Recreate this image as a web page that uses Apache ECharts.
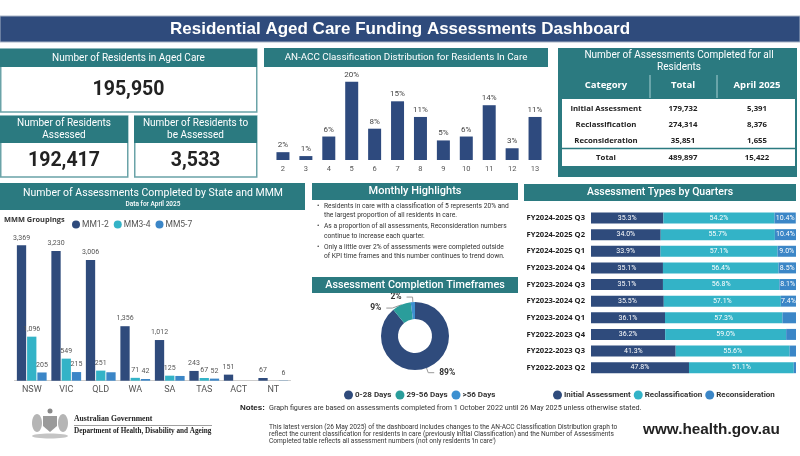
<!DOCTYPE html>
<html><head><meta charset="utf-8">
<script src="https://cdn.jsdelivr.net/npm/echarts@6/dist/echarts.min.js"></script>
<style>html,body{margin:0;padding:0;background:#fff}#c{width:800px;height:456px}</style>
</head><body><div id="c"></div>
<script>
// ---------- DATA ----------
const kpiInCare = 195950;
const kpiAssessed = 192417;
const kpiToBeAssessed = 3533;

const anaccCats = ['2','3','4','5','6','7','8','9','10','11','12','13'];
const anaccPct = [2,1,6,20,8,15,11,5,6,14,3,11];

const tableCats = ['Initial Assessment','Reclassification','Reconsideration'];
const tableTotal = [179732,274314,35851];
const tableApril = [5391,8376,1655];
const tableGrandTotal = 489897;
const tableGrandApril = 15422;

const states = ['NSW','VIC','QLD','WA','SA','TAS','ACT','NT'];
const mm12 = [3369,3230,3006,1356,1012,243,151,67];
const mm34 = [1096,549,251,71,125,67,null,null];
const mm57 = [205,215,210,42,118,52,null,6];
const mm57HiddenLabels = ['QLD','SA'];

const highlights = [
  ['Residents in care with a classification of 5 represents 20% and','the largest proportion of all residents in care.'],
  ['As a proportion of all assessments, Reconsideration numbers','continue to increase each quarter.'],
  ['Only a little over 2% of assessments were completed outside','of KPI time frames and this number continues to trend down.']
];

const timeframeNames = ['0-28 Days','29-56 Days','>56 Days'];
const timeframePct = [89,9,2];

const quarters = ['FY2024-2025 Q3','FY2024-2025 Q2','FY2024-2025 Q1','FY2023-2024 Q4','FY2023-2024 Q3','FY2023-2024 Q2','FY2023-2024 Q1','FY2022-2023 Q4','FY2022-2023 Q3','FY2022-2023 Q2'];
const initialPct = [35.3,34.0,33.9,35.1,35.1,35.5,36.1,36.2,41.3,47.8];
const reclassPct = [54.2,55.7,57.1,56.4,56.8,57.1,57.3,59.0,55.6,51.1];
const reconPct   = [10.4,10.4,9.0,8.5,8.1,7.4,6.6,4.8,3.1,1.1];

// ---------- STYLE ----------
const TEAL = '#2b7a80';
const NAVY = '#2f4b7c';
const CYAN = '#33b3c7';
const BLUE = '#3b86c7';
const HDR = "10.5px Roboto, sans-serif";
const HDR10 = "10px Roboto, sans-serif";
const NARROW = "Roboto, sans-serif";
const fmt = v => v == null ? '' : Number(v).toLocaleString('en-US');

function txt(x, y, text, font, fill, align) {
  return {type:'text', silent:true, z:10, style:{x:x, y:y, text:text, font:font, fill:fill||'#fff',
    textAlign:align||'center', align:align||'center', textVerticalAlign:'middle', verticalAlign:'middle'}};
}
function rect(x, y, w, h, fill, stroke, lw) {
  return {type:'rect', silent:true, z:5, shape:{x:x, y:y, width:w, height:h},
    style:{fill:fill, stroke:stroke||null, lineWidth:lw||0}};
}
function line(x1, y1, x2, y2, stroke, lw) {
  return {type:'line', silent:true, z:8, shape:{x1:x1, y1:y1, x2:x2, y2:y2}, style:{stroke:stroke, lineWidth:lw||1}};
}

const g = [];
// title
g.push(rect(0, 16, 800, 26, NAVY, '#a8b4c6', 1));
g.push(txt(400, 29.5, 'Residential Aged Care Funding Assessments Dashboard', "bold 17px 'Liberation Sans', Arial, sans-serif"));

// KPI boxes
const KPIF = "bold 19.5px Roboto, sans-serif";
g.push(rect(0.75, 49, 256, 63, '#fff', '#6aa3a8', 1.5));
g.push(rect(0, 49, 257, 18, TEAL));
g.push(txt(128.5, 58.5, 'Number of Residents in Aged Care', HDR10));
g.push(txt(128.5, 90, fmt(kpiInCare), KPIF, '#222'));

g.push(rect(0.75, 116, 127, 61, '#fff', '#6aa3a8', 1.5));
g.push(rect(0, 116, 128, 27, TEAL));
g.push(txt(64, 123.5, 'Number of Residents', HDR10));
g.push(txt(64, 135, 'Assessed', HDR10));
g.push(txt(64, 161, fmt(kpiAssessed), KPIF, '#222'));

g.push(rect(134.75, 116, 122, 61, '#fff', '#6aa3a8', 1.5));
g.push(rect(134, 116, 123, 27, TEAL));
g.push(txt(195.5, 123.5, 'Number of Residents to', HDR10));
g.push(txt(195.5, 135, 'be Assessed', HDR10));
g.push(txt(195.5, 161, fmt(kpiToBeAssessed), KPIF, '#222'));

// AN-ACC header
g.push(rect(264, 48, 284, 19, TEAL));
g.push(txt(406, 58, 'AN-ACC Classification Distribution for Residents In Care', "9.8px Roboto, sans-serif"));

// Table
g.push(rect(558, 48, 239, 129, TEAL));
g.push(txt(679, 55.5, 'Number of Assessments Completed for all', HDR10));
g.push(txt(679, 67, 'Residents', HDR10));
const colX = [606, 683, 757];
g.push(txt(colX[0], 85, 'Category', "bold 9.5px 'Open Sans', sans-serif"));
g.push(txt(colX[1], 85, 'Total', "bold 9.5px 'Open Sans', sans-serif"));
g.push(txt(colX[2], 85, 'April 2025', "bold 9.5px 'Open Sans', sans-serif"));
g.push(line(650, 75, 650, 98, '#a9d0d3', 1));
g.push(line(717, 75, 717, 98, '#a9d0d3', 1));
g.push(rect(562, 99, 233, 67, '#fff'));
g.push(line(562, 148.5, 795, 148.5, TEAL, 1.5));
const rowY = [109, 124.3, 140.3];
tableCats.forEach((c, i) => {
  g.push(txt(colX[0], rowY[i], c, "bold 7.8px 'Open Sans', sans-serif", '#222'));
  g.push(txt(colX[1], rowY[i], fmt(tableTotal[i]), "bold 7.8px 'Open Sans', sans-serif", '#222'));
  g.push(txt(colX[2], rowY[i], fmt(tableApril[i]), "bold 7.8px 'Open Sans', sans-serif", '#222'));
});
g.push(txt(colX[0], 157.3, 'Total', "bold 7.8px 'Open Sans', sans-serif", '#222'));
g.push(txt(colX[1], 157.3, fmt(tableGrandTotal), "bold 7.8px 'Open Sans', sans-serif", '#222'));
g.push(txt(colX[2], 157.3, fmt(tableGrandApril), "bold 7.8px 'Open Sans', sans-serif", '#222'));

// State header
g.push(rect(0, 183, 305, 27, TEAL));
g.push(txt(153, 193, 'Number of Assessments Completed by State and MMM', HDR));
g.push(txt(153, 204.5, 'Data for April 2025', "500 6.5px Roboto, sans-serif"));
g.push(txt(4, 220, 'MMM Groupings', "bold 7.4px 'Open Sans', sans-serif", '#333', 'left'));

// Monthly highlights
g.push(rect(312, 183, 206, 17, TEAL));
g.push(txt(415, 191.5, 'Monthly Highlights', "500 11px Roboto, sans-serif"));
const hlY = [[206, 215.5], [226.5, 236], [247, 256.5]];
highlights.forEach((lines, i) => {
  g.push(txt(317, hlY[i][0], '•', "7px Roboto, sans-serif", '#333', 'left'));
  lines.forEach((l, j) => g.push(txt(324, hlY[i][j], l, "6.7px " + NARROW, '#333', 'left')));
});

// Completion timeframes header
g.push(rect(312, 277, 206, 16, TEAL));
g.push(txt(415, 285, 'Assessment Completion Timeframes', "500 10.8px Roboto, sans-serif"));

// Quarters header
g.push(rect(524, 184, 272, 17, TEAL));
g.push(txt(660, 192.5, 'Assessment Types by Quarters', "500 10.5px Roboto, sans-serif"));

// Footer
g.push(txt(240, 408, 'Notes:', "bold 8px 'Liberation Sans', sans-serif", '#222', 'left'));
g.push(txt(269, 408.5, 'Graph figures are based on assessments completed from 1 October 2022 until 26 May 2025 unless otherwise stated.', "7.2px " + NARROW, '#333', 'left'));
['This latest version (26 May 2025) of the dashboard includes changes to the AN-ACC Classification Distribution graph to',
 'reflect the current classification for residents in care (previously initial Classification) and the Number of Assessments',
 "Completed table reflects all assessment numbers (not only residents 'in care')"].forEach((l, i) => {
  g.push(txt(269, 427.5 + i * 7, l, "6.6px " + NARROW, '#333', 'left'));
});
g.push(txt(643, 430, 'www.health.gov.au', "bold 15.3px 'Liberation Sans', Arial, sans-serif", '#222', 'left'));

// Government logo (simplified crest)
g.push({type:'polygon', silent:true, z:6, shape:{points:[[43,416],[57,416],[57,426],[50,432],[43,426]]}, style:{fill:'#9a9a9a'}});
g.push({type:'ellipse', silent:true, z:6, shape:{cx:37, cy:423, rx:5, ry:9}, style:{fill:'#b5b5b5'}});
g.push({type:'ellipse', silent:true, z:6, shape:{cx:63, cy:423, rx:5, ry:9}, style:{fill:'#b5b5b5'}});
g.push({type:'ellipse', silent:true, z:6, shape:{cx:50, cy:436, rx:18, ry:2.5}, style:{fill:'#c4c4c4'}});
g.push({type:'circle', silent:true, z:6, shape:{cx:50, cy:411, r:2.5}, style:{fill:'#888'}});
g.push(txt(74, 419.5, 'Australian Government', "bold 7.7px 'Liberation Serif', serif", '#222', 'left'));
g.push(line(74, 425.5, 212, 425.5, '#888', 0.8));
g.push(txt(74, 431.5, 'Department of Health, Disability and Ageing', "bold 7.2px 'Liberation Serif', serif", '#222', 'left'));

// ---------- CHART ----------
const chart = echarts.init(document.getElementById('c'), null, {renderer:'canvas'});
const stateLabel = {show:true, position:'top', distance:4, fontSize:7, color:'#555', fontFamily:NARROW,
  formatter: p => fmt(p.value)};
const qLabel = {show:true, position:'inside', fontSize:7, color:'#fff', fontFamily:'Roboto',
  formatter: p => p.value >= 7 ? p.value.toFixed(1) + '%' : ''};

chart.setOption({
  animation:false,
  backgroundColor:'#fff',
  textStyle:{fontFamily:'Roboto, sans-serif'},
  graphic:g,
  grid:[
    {left:271.5, top:70, width:275, height:90},
    {left:14.5, top:230, width:276, height:150.7},
    {left:591, top:209.7, width:205, height:166.3}
  ],
  xAxis:[
    {gridIndex:0, type:'category', data:anaccCats, axisLine:{show:false}, axisTick:{show:false},
      axisLabel:{fontSize:7.5, color:'#555', margin:5}},
    {gridIndex:1, type:'category', data:states, axisLine:{show:true, lineStyle:{color:'#ccc'}}, axisTick:{show:false},
      axisLabel:{fontSize:9, color:'#555', margin:5}},
    {gridIndex:2, type:'value', min:0, max:100, show:false}
  ],
  yAxis:[
    {gridIndex:0, type:'value', min:0, max:23, show:false},
    {gridIndex:1, type:'value', min:0, max:3750, show:false},
    {gridIndex:2, type:'category', data:quarters, inverse:true, axisLine:{show:false}, axisTick:{show:false},
      axisLabel:{fontSize:7.6, fontWeight:'bold', color:'#222', margin:6, fontFamily:"'Open Sans', sans-serif"}}
  ],
  legend:[
    {data:['MM1-2','MM3-4','MM5-7'], left:67, top:215, icon:'circle', itemWidth:8, itemHeight:8, itemGap:5,
      textStyle:{fontSize:8.5, color:'#555', padding:[0,0,0,-3]}},
    {data:timeframeNames, left:339, top:385.5, width:200, icon:'circle', itemWidth:9, itemHeight:9, itemGap:4,
      textStyle:{fontSize:8, fontWeight:'bold', color:'#333', padding:[0,0,0,-3]}},
    {data:['Initial Assessment','Reclassification','Reconsideration'], left:548, top:385.5, width:252, icon:'circle', itemWidth:9, itemHeight:9, itemGap:3,
      textStyle:{fontSize:8, fontWeight:'bold', color:'#333', padding:[0,0,0,-3]}}
  ],
  series:[
    {type:'bar', name:'AN-ACC', xAxisIndex:0, yAxisIndex:0, data:anaccPct, barWidth:13,
      itemStyle:{color:'#2e4a7e'}, label:{show:true, position:'top', distance:3, fontSize:8, color:'#444', formatter:'{c}%'}},
    {type:'bar', name:'MM1-2', xAxisIndex:1, yAxisIndex:1, data:mm12, barWidth:9.3, barGap:'10%',
      itemStyle:{color:NAVY}, label:stateLabel},
    {type:'bar', name:'MM3-4', xAxisIndex:1, yAxisIndex:1, data:mm34, barWidth:9.3, barGap:'10%',
      itemStyle:{color:CYAN}, label:stateLabel},
    {type:'bar', name:'MM5-7', xAxisIndex:1, yAxisIndex:1, barWidth:9.3, barGap:'10%',
      data:mm57.map((v, i) => ({value:v, label:{show: mm57HiddenLabels.indexOf(states[i]) < 0}})),
      itemStyle:{color:BLUE}, label:stateLabel},
    {type:'bar', name:'Initial Assessment', xAxisIndex:2, yAxisIndex:2, stack:'q', data:initialPct, barWidth:11,
      itemStyle:{color:NAVY}, label:qLabel},
    {type:'bar', name:'Reclassification', xAxisIndex:2, yAxisIndex:2, stack:'q', data:reclassPct, barWidth:11,
      itemStyle:{color:CYAN}, label:qLabel},
    {type:'bar', name:'Reconsideration', xAxisIndex:2, yAxisIndex:2, stack:'q', data:reconPct, barWidth:11,
      itemStyle:{color:BLUE}, label:qLabel},
    {type:'pie', name:'Timeframes', center:[415, 336], radius:[17, 34], startAngle:90, clockwise:true,
      data:timeframeNames.map((n, i) => ({name:n, value:timeframePct[i],
        itemStyle:{color:[NAVY, '#2a9d9b', '#3d90d0'][i]}})),
      label:{show:true, position:'outside', formatter: p => p.value + '%', fontSize:8.5, fontWeight:'bold', color:'#333'},
      labelLine:{show:true, length:5, length2:6, lineStyle:{color:'#999'}}}
  ]
});
</script>
</body></html>
